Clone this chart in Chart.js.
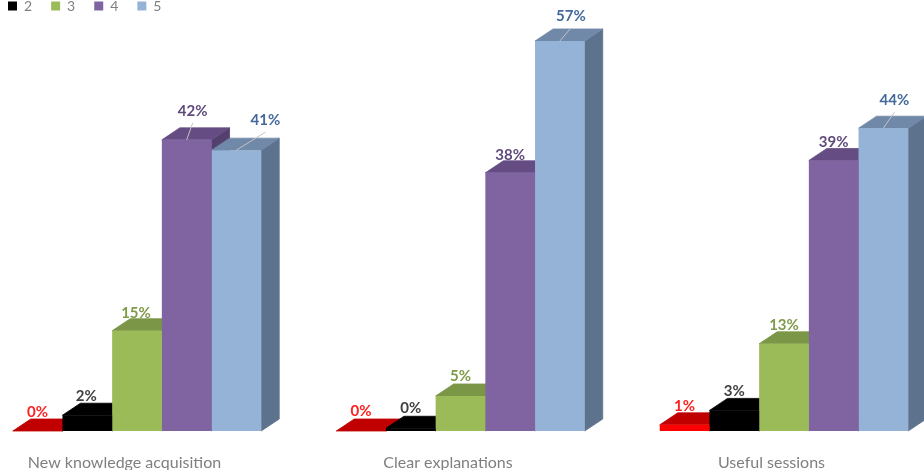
<!DOCTYPE html>
<html>
<head>
<meta charset="utf-8">
<title>Session feedback</title>
<script src="https://cdn.jsdelivr.net/npm/chart.js@4"></script>
<style>
    html, body { margin: 0; padding: 0; width: 924px; height: 470px; overflow: hidden; background: #fff; }
    canvas { position: absolute; left: -11px; top: -20px; }
</style>
</head>
<body>
<canvas id="feedbackChart" width="935" height="490"></canvas>
<script>
const categories = ["New knowledge acquisition", "Clear explanations", "Useful sessions"];
const seriesNames = ["1", "2", "3", "4", "5"];

// percentages, the printed labels are these rounded
const values1 = [0, 0, 0.9];
const values2 = [2.3, 0.4, 3];
const values3 = [14.6, 5.1, 12.7];
const values4 = [42.4, 37.6, 39.4];
const values5 = [40.9, 56.8, 44.1];

const allValues = [values1, values2, values3, values4, values5];

const frontColors = ["#ff0000", "#000000", "#9bbb59", "#8064a2", "#95b3d7"];
const topColors = ["#c00000", "#000000", "#7c9647", "#654d84", "#7189a8"];
const sideColors = ["#a00000", "#000000", "#667b3a", "#53406c", "#5d728d"];
const labelColors = ["#ff2020", "#404040", "#7f9a48", "#604a7b", "#44699a"];

// label position relative to the top centre of each bar
const labelOffsets = [
    [[0, -19], [0, -20], [0, -19]],
    [[-1, -19], [0, -20], [0, -19]],
    [[-1, -18], [0, -20], [0, -19]],
    [[6, -29], [0, -18], [0, -18]],
    [[29, -30], [11, -25], [11, -28]]
];

const DEPTH_X = 18;
const DEPTH_Y = 12;

function poly(ctx, pts, color) {
    ctx.fillStyle = color;
    ctx.strokeStyle = color;
    ctx.lineWidth = 0.8; // hides the antialiasing seam between faces
    ctx.beginPath();
    ctx.moveTo(pts[0][0], pts[0][1]);
    for (let i = 1; i < pts.length; i++) ctx.lineTo(pts[i][0], pts[i][1]);
    ctx.closePath();
    ctx.fill();
    ctx.stroke();
}

// ================= 3D FACES =================

const depthFaces = {
    id: "depthFaces",
    beforeDatasetsDraw(chart) {
        const ctx = chart.ctx;
        ctx.save();
        for (let g = 0; g < categories.length; g++) {
            for (let d = 0; d < seriesNames.length; d++) {
                const bar = chart.getDatasetMeta(d).data[g];
                const l = bar.x - bar.width / 2;
                const r = bar.x + bar.width / 2;
                poly(ctx, [[r, bar.y], [r + DEPTH_X, bar.y - DEPTH_Y], [r + DEPTH_X, bar.base - DEPTH_Y], [r, bar.base]], sideColors[d]);
                poly(ctx, [[l, bar.y], [l + DEPTH_X, bar.y - DEPTH_Y], [r + DEPTH_X, bar.y - DEPTH_Y], [r, bar.y]], topColors[d]);
            }
        }
        ctx.restore();
    }
};

// ================= LABELS =================

const barLabels = {
    id: "barLabels",
    afterDatasetsDraw(chart) {
        const ctx = chart.ctx;
        ctx.save();
        ctx.font = "bold 15px Lato";
        ctx.textAlign = "center";
        ctx.textBaseline = "middle";
        for (let d = 0; d < seriesNames.length; d++) {
            for (let g = 0; g < categories.length; g++) {
                const bar = chart.getDatasetMeta(d).data[g];
                const off = labelOffsets[d][g];
                const x = bar.x + off[0];
                const y = bar.y + off[1];
                // raised labels get a thin leader line
                if (off[1] < -24) {
                    ctx.strokeStyle = "#c4c4c4";
                    ctx.lineWidth = 1;
                    ctx.beginPath();
                    ctx.moveTo(x, y + 12);
                    ctx.lineTo(bar.x, bar.y);
                    ctx.stroke();
                }
                ctx.fillStyle = labelColors[d];
                ctx.fillText(Math.round(allValues[d][g]) + "%", x, y);
            }
        }
        ctx.restore();
    }
};

new Chart(document.getElementById("feedbackChart"), {
    type: "bar",
    data: {
        labels: categories,
        datasets: seriesNames.map((name, i) => ({
            label: name,
            data: allValues[i],
            backgroundColor: frontColors[i],
            borderWidth: 0,
            clip: false,
            barPercentage: 1,
            categoryPercentage: 0.768
        }))
    },
    options: {
        responsive: false,
        animation: false,
        layout: { padding: { left: 0, right: 140, top: 0, bottom: 0 } },
        scales: {
            x: {
                offset: false,
                grid: { display: false },
                border: { display: false },
                afterFit(scale) { scale.height = 39; },
                ticks: {
                    autoSkip: false,
                    maxRotation: 0,
                    padding: 14,
                    labelOffset: -12.5,
                    color: "#7f7f7f",
                    font: { family: "Lato", size: 16 }
                }
            },
            y: {
                min: 0,
                max: 60,
                grid: { display: false },
                border: { display: false },
                ticks: { display: false },
                afterFit(scale) { scale.width = 148; }
            }
        },
        plugins: {
            tooltip: { enabled: false },
            legend: {
                position: "top",
                align: "start",
                maxHeight: 39,
                labels: {
                    boxWidth: 9,
                    boxHeight: 9,
                    padding: 19,
                    color: "#7f7f7f",
                    font: { family: "Lato", size: 14 },
                    filter: item => item.text !== "1"
                }
            }
        }
    },
    plugins: [depthFaces, barLabels]
});
</script>
</body>
</html>
